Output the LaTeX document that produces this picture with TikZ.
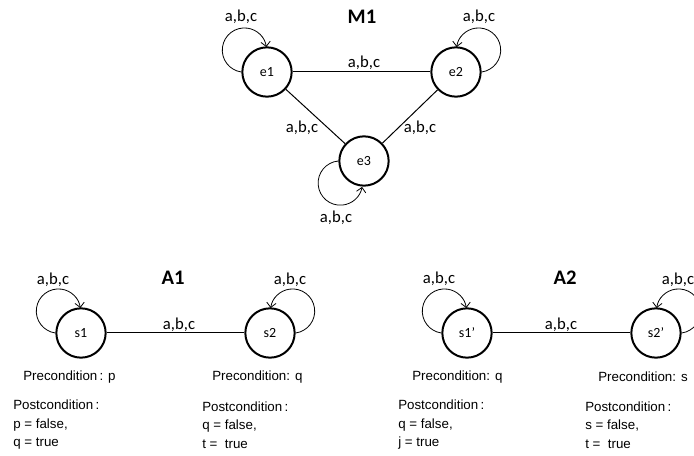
\documentclass[tikz,border=0pt]{standalone}
\usepackage{fontspec}
\setmainfont{Carlito}
\newfontfamily\arialf{Liberation Sans}
\usetikzlibrary{arrows.meta}
\begin{document}
\begin{tikzpicture}[x=0.75pt,y=-0.75pt,
  state/.style={circle,draw,line width=1.5pt,minimum size=37pt,inner sep=0pt,font=\fontsize{10.5}{12}\selectfont},
  conn/.style={line width=0.75pt},
  loopl/.style={line width=0.6pt,-{Straight Barb[length=3.5pt,width=7pt,line width=0.6pt]}},
  lbl/.style={font=\fontsize{12.5}{14}\selectfont,inner sep=0pt},
  ttl/.style={font=\bfseries\fontsize{15.5}{18}\selectfont,inner sep=0pt},
  cond/.style={font=\arialf\fontsize{10}{13.9}\selectfont,inner sep=0pt,anchor=west,align=left}]
\useasboundingbox (0,0) rectangle (694,456);
% M1
\node[ttl] (tM) at (362,17) {M1};
\node[state] (e1) at (267,72) {e1};
\node[state] (e2) at (456,72) {e2};
\node[state] (e3) at (364,161) {e3};
\draw[conn] (e1) -- (e2);
\draw[conn] (e1) -- (e3);
\draw[conn] (e2) -- (e3);
\draw[loopl] (e1.west) arc[start angle=262,end angle=8,radius=16.6pt];
\draw[loopl] (e2.east) arc[start angle=278,end angle=532,radius=16.6pt];
\draw[loopl] (e3.west) arc[start angle=95,end angle=350,radius=16.6pt];
\node[lbl] (l1) at (241,17) {a,b,c};
\node[lbl] (l2) at (479,17) {a,b,c};
\node[lbl] (l3) at (336,218) {a,b,c};
\node[lbl] (l12) at (364,63) {a,b,c};
\node[lbl] (l13) at (302,128) {a,b,c};
\node[lbl] (l23) at (420,128) {a,b,c};
% A1
\node[ttl] (tA1) at (173,278) {A1};
\node[state] (s1) at (81,333) {s1};
\node[state] (s2) at (270,333) {s2};
\draw[conn] (s1) -- (s2);
\draw[loopl] (s1.west) arc[start angle=262,end angle=8,radius=16.6pt];
\draw[loopl] (s2.east) arc[start angle=278,end angle=532,radius=16.6pt];
\node[lbl] (ls1) at (53,280) {a,b,c};
\node[lbl] (ls2) at (290,280) {a,b,c};
\node[lbl] (ls12) at (179,325) {a,b,c};
\node[cond] (pre1) at (23,377) {Precondition\,: p};
\node[cond] (pre2) at (212,377) {Precondition: q};
\node[cond] (post1) at (13,425) {Postcondition\,:\\p = false,\\q = true};
\node[cond] (post2) at (202,425) {Postcondition\,:\\q = false,\\t = \ true};
% A2
\node[ttl] (tA2) at (565,278) {A2};
\node[state] (t1) at (467,333) {s1’};
\node[state] (t2) at (656,333) {s2’};
\draw[conn] (t1) -- (t2);
\draw[loopl] (t1.west) arc[start angle=262,end angle=8,radius=16.6pt];
\draw[loopl] (t2.east) arc[start angle=278,end angle=532,radius=16.6pt];
\node[lbl] (lt1) at (439,279) {a,b,c};
\node[lbl] (lt2) at (678,280) {a,b,c};
\node[lbl] (lt12) at (561,325) {a,b,c};
\node[cond] (pre3) at (412,377) {Precondition: q};
\node[cond] (pre4) at (598,377) {Precondition: s};
\node[cond] (post3) at (398,425) {Postcondition\,:\\q = false,\\j = true};
\node[cond] (post4) at (585,425) {Postcondition\,:\\s = false,\\t = \ true};
\end{tikzpicture}
\end{document}
